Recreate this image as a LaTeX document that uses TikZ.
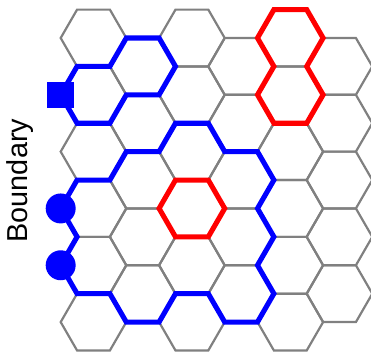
\documentclass[tikz,border=0pt]{standalone}
\usepackage{fontspec}
\setsansfont{Liberation Sans}
\definecolor{cellgray}{RGB}{128,128,128}
\definecolor{wallblue}{RGB}{0,0,255}
\definecolor{wallred}{RGB}{255,0,0}

\begin{document}
\begin{tikzpicture}[x=0.5cm,y=-0.866cm,
  cell/.style={draw=cellgray,line width=1.9pt},
  bluewall/.style={draw=wallblue,line width=4.4pt},
  redwall/.style={draw=wallred,line width=4.4pt},
  endmark/.style={fill=wallblue,inner sep=0pt}]
\useasboundingbox (-5.70,-1.338) rectangle (16.92,11.02);
\foreach \c in {0,...,5}{
  \pgfmathtruncatemacro\odd{mod(\c,2)}
  \pgfmathtruncatemacro\last{5-\odd}
  \foreach \r in {0,...,\last}{
    \pgfmathsetmacro\cx{3*\c}
    \pgfmathsetmacro\cy{2*\r+\odd}
    \draw[cell] (\cx-2,\cy) -- (\cx-1,\cy-1) -- (\cx+1,\cy-1) -- (\cx+2,\cy)
      -- (\cx+1,\cy+1) -- (\cx-1,\cy+1) -- cycle;
  }
}
\draw[bluewall] (2,0) -- (4,0) -- (5,1) -- (4,2) -- (2,2) -- (1,3) -- (-1,3)
  -- (-2,2) -- (-1,1) -- (1,1) -- cycle;
\draw[bluewall] (-1,5) -- (1,5) -- (2,4) -- (4,4) -- (5,3) -- (7,3) -- (8,4)
  -- (10,4) -- (11,5) -- (10,6) -- (11,7) -- (10,8) -- (11,9) -- (10,10)
  -- (8,10) -- (7,9) -- (5,9) -- (4,10) -- (2,10) -- (1,9) -- (-1,9)
  -- (-2,8) -- (-1,7) -- (-2,6) -- cycle;
\draw[redwall] (4,6) -- (5,5) -- (7,5) -- (8,6) -- (7,7) -- (5,7) -- cycle;
\draw[redwall] (11,-1) -- (13,-1) -- (14,0) -- (13,1) -- (14,2) -- (13,3)
  -- (11,3) -- (10,2) -- (11,1) -- (10,0) -- cycle;
\node[endmark,minimum size=23pt] (sq) at (-2,2) {};
\node[endmark,circle,minimum size=26pt] (dotA) at (-2,6) {};
\node[endmark,circle,minimum size=26pt] (dotB) at (-2,8) {};
\node[rotate=90,font=\sffamily\fontsize{25}{30}\selectfont] (bnd) at (-4.48,5.02) {Boundary};
\end{tikzpicture}
\end{document}
